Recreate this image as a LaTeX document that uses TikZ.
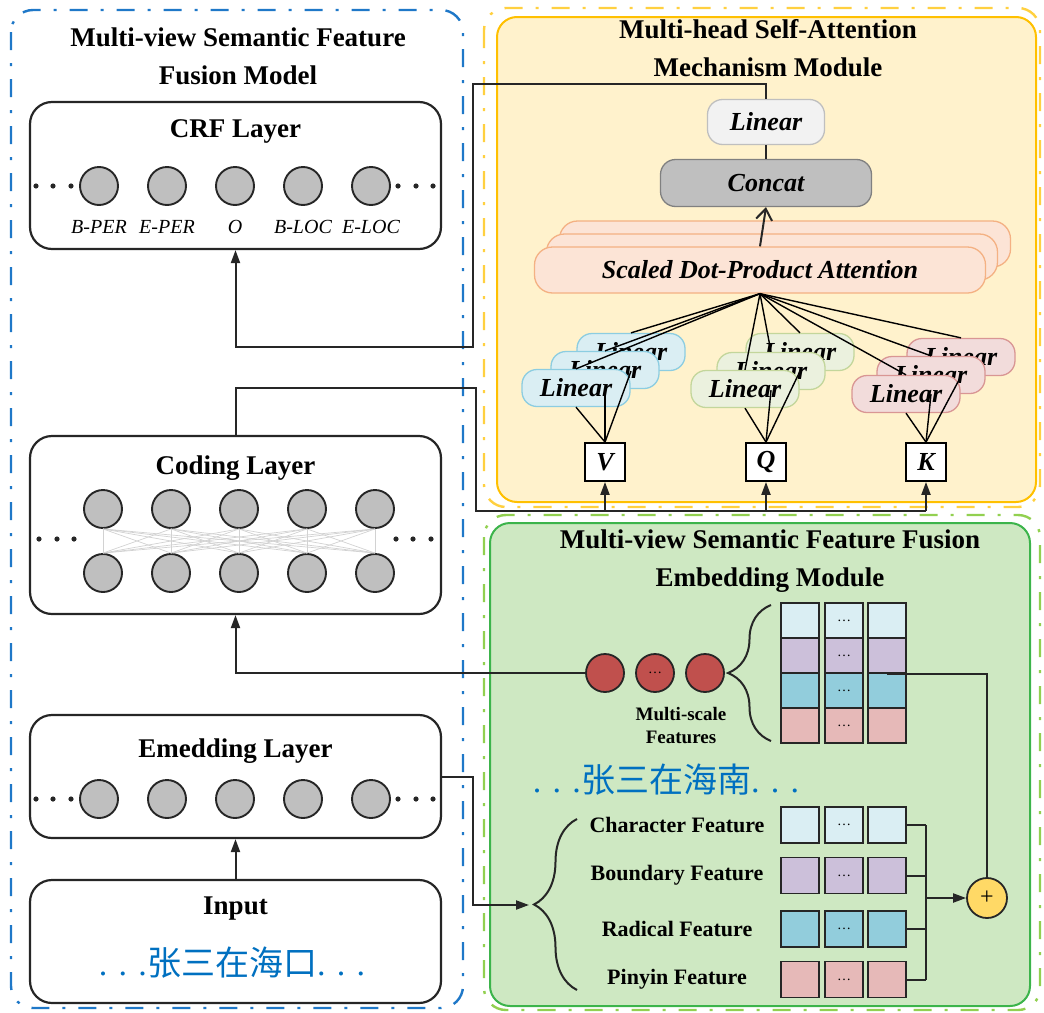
\documentclass[tikz,border=0pt]{standalone}
\usepackage{fontspec}
\setmainfont{Liberation Serif}
\newfontfamily\cjk{Noto Sans CJK SC}
\usetikzlibrary{arrows.meta,decorations.pathreplacing}
\definecolor{azulmarco}{RGB}{31,120,200}
\definecolor{amarillomarco}{RGB}{255,192,0}
\definecolor{amarillofondo}{RGB}{255,242,204}
\definecolor{verdemarco}{RGB}{60,180,75}
\definecolor{verdeclaro}{RGB}{146,208,80}
\definecolor{verdefondo}{RGB}{206,232,194}
\definecolor{textoazul}{RGB}{0,112,192}
\definecolor{gris}{RGB}{191,191,191}
\definecolor{grisoscuro}{RGB}{38,38,38}
\definecolor{celeste}{RGB}{218,238,243}
\definecolor{lila}{RGB}{204,192,218}
\definecolor{turquesa}{RGB}{146,205,220}
\definecolor{rosa}{RGB}{230,185,184}
\definecolor{azullin}{RGB}{218,238,243}
\definecolor{azullinborde}{RGB}{140,205,225}
\definecolor{verdelin}{RGB}{235,241,222}
\definecolor{verdelinborde}{RGB}{195,214,155}
\definecolor{rojolin}{RGB}{242,220,219}
\definecolor{rojolinborde}{RGB}{217,150,148}
\definecolor{naranjafondo}{RGB}{252,228,214}
\definecolor{naranjaborde}{RGB}{244,177,131}
\definecolor{rojobola}{RGB}{192,80,77}
\definecolor{oro}{RGB}{255,217,102}
\newcommand{\tam}[1]{\fontsize{#1}{#1}\selectfont}
\newcommand{\puntitos}{{\tam{14}\ldots}}
\tikzset{
  marco/.style={line width=2.4pt, rounded corners=22pt, dash pattern=on 18pt off 13pt on 3pt off 13pt},
  modulo/.style={line width=2pt, rounded corners=20pt},
  capa/.style={draw=grisoscuro, line width=2.2pt, rounded corners=22pt, minimum width=411pt, inner sep=0pt},
  titulo/.style={font=\bfseries\fontsize{27}{38}\selectfont, align=center},
  subtitulo/.style={font=\bfseries\tam{27}},
  neurona/.style={circle, draw=grisoscuro, fill=gris, line width=1.9pt, minimum size=38pt, inner sep=0pt},
  etiqueta/.style={font=\itshape\tam{20}},
  enlace/.style={draw=gray!35, line width=0.7pt},
  chino/.style={text=textoazul, font=\tam{34}},
  conector/.style={draw=grisoscuro, line width=2pt},
  flecha/.style={conector, -{Triangle[length=13pt,width=9pt]}},
  fina/.style={draw=black, line width=1.4pt},
  lineal/.style={rounded corners=15pt, line width=1.3pt, minimum width=108pt, minimum height=37pt, inner sep=0pt, font=\bfseries\itshape\tam{26}},
  lazul/.style={draw=azullinborde, fill=azullin},
  lverde/.style={draw=verdelinborde, fill=verdelin},
  lrojo/.style={draw=rojolinborde, fill=rojolin},
  atencion/.style={draw=naranjaborde, fill=naranjafondo, rounded corners=18pt, line width=1.3pt, minimum width=451pt, minimum height=46pt, inner sep=0pt, font=\bfseries\itshape\tam{26}},
  qkv/.style={draw=black, fill=white, line width=1.8pt, minimum width=40pt, minimum height=38pt, inner sep=0pt, font=\bfseries\itshape\tam{26}},
  bolaroja/.style={circle, draw=grisoscuro, fill=rojobola, line width=1.8pt, minimum size=38pt, inner sep=0pt},
  celda/.style={draw=grisoscuro, line width=1.8pt, minimum width=38pt, minimum height=35pt, inner sep=0pt},
  etiqfeat/.style={font=\bfseries\tam{22}},
  llave/.style={decorate, decoration={brace, amplitude=43pt}, line width=2pt, draw=grisoscuro},
  sumador/.style={circle, draw=grisoscuro, fill=oro, line width=1.8pt, minimum size=40pt, inner sep=0pt, font=\tam{24}}
}

\begin{document}
\begin{tikzpicture}[x=1pt, y=-1pt]
\useasboundingbox (0,0) rectangle (1044,1012);

% Marcos de los modulos
\draw[marco, azulmarco] (11,10) rectangle (463,1008);
\draw[marco, amarillomarco!75] (484,8) rectangle (1040,507);
\draw[marco, verdeclaro] (484,515) rectangle (1040,1010);
\draw[modulo, draw=amarillomarco, fill=amarillofondo] (497,17) rectangle (1036,502);
\draw[modulo, draw=verdemarco, fill=verdefondo] (490,523) rectangle (1030,1006);

% Titulos
\node[titulo] (titmodelo) at (238,56) {Multi-view Semantic Feature\\Fusion Model};
\node[titulo] (titatencion) at (768,48) {Multi-head Self-Attention\\Mechanism Module};
\node[titulo] (titfusion) at (770,561) {Multi-view Semantic Feature Fusion\\Embedding Module};

% Capa CRF
\node[capa, minimum height=147pt] (crf) at (235.5,175.5) {};
\node[subtitulo] (crftit) at (235.5,131) {CRF Layer};
\foreach \i/\lab in {0/B-PER,1/E-PER,2/O,3/B-LOC,4/E-LOC} {
  \node[neurona] (crf\i) at (99+68*\i,186) {};
  \node[etiqueta] (crflab\i) at (99+68*\i,227) {\lab};
}
\foreach \x in {36,53,71,398,416,433} \fill[grisoscuro] (\x,186) circle (2.6pt);

% Capa de codificacion
\node[capa, minimum height=178pt] (codif) at (235.5,525) {};
\node[subtitulo] (codiftit) at (235.5,468) {Coding Layer};
\foreach \i in {0,...,4} {
  \node[neurona] (cs\i) at (103+68*\i,509) {};
  \node[neurona] (ci\i) at (103+68*\i,573) {};
}
\foreach \i in {0,...,4} \foreach \j in {0,...,4} \draw[enlace] (cs\i.south) -- (ci\j.north);
\foreach \x in {39,57,74,396,413,431} \fill[grisoscuro] (\x,539) circle (2.6pt);

% Capa de embedding
\node[capa, minimum height=123pt] (emb) at (235.5,776.5) {};
\node[subtitulo] (embtit) at (235.5,751) {Emedding Layer};
\foreach \i in {0,...,4} \node[neurona] (emb\i) at (99+68*\i,799) {};
\foreach \x in {36,53,71,398,416,433} \fill[grisoscuro] (\x,799) circle (2.6pt);

% Entrada
\node[capa, minimum height=123pt] (entrada) at (235.5,941.5) {};
\node[subtitulo] (entradatit) at (235.5,909) {Input};
\node[chino] (entradatxt) at (232,963) {. . .{\cjk 张三在海口}. . .};

% Modulo de atencion
\node[lineal, draw=gris, fill=gray!10, minimum width=117pt, minimum height=45pt] (lin) at (766,122) {Linear};
\node[lineal, draw=gray, fill=gris, minimum width=211pt, minimum height=47pt] (concat) at (766,183) {Concat};
\node[atencion] (atn3) at (785,244) {};
\node[atencion] (atn2) at (772,257) {};
\node[atencion] (atn1) at (760,270) {Scaled Dot-Product Attention};

\node[lineal, lazul] (lv3) at (631,352) {Linear};
\node[lineal, lazul] (lv2) at (605,370) {Linear};
\node[lineal, lazul] (lv1) at (576,388) {Linear};
\node[lineal, lverde] (lq3) at (800,352) {Linear};
\node[lineal, lverde] (lq2) at (771,371) {Linear};
\node[lineal, lverde] (lq1) at (745,389) {Linear};
\node[lineal, lrojo] (lk3) at (961,357) {Linear};
\node[lineal, lrojo] (lk2) at (931,375) {Linear};
\node[lineal, lrojo] (lk1) at (906,394) {Linear};

\node[qkv] (v) at (605,462) {V};
\node[qkv] (q) at (766,462) {Q};
\node[qkv] (k) at (926,462) {K};

\foreach \g in {v,q,k} \foreach \n in {1,2,3} {
  \draw[fina] (\g.north) -- (l\g\n.south);
  \draw[fina] (atn1.south) -- (l\g\n.north);
}
\draw[conector, -{Straight Barb[length=11pt,width=16pt]}] (atn1.north) -- (concat.south);
\draw[conector] (concat.north) -- (lin.south);

% Rasgos multiescala
\node[bolaroja] (ms1) at (605,673) {};
\node[bolaroja] (ms2) at (655,673) {\puntitos};
\node[bolaroja] (ms3) at (705,673) {};
\node[font=\bfseries\fontsize{19}{23}\selectfont, align=center] (mstxt) at (681,726) {Multi-scale\\Features};
\draw[llave] (771,741) -- (771,605);
\foreach \r/\y/\col in {1/620.5/celeste,2/655.5/lila,3/690.5/turquesa,4/725.5/rosa} {
  \node[celda, fill=\col] (m\r1) at (800,\y) {};
  \node[celda, fill=\col] (m\r2) at (844,\y) {\puntitos};
  \node[celda, fill=\col] (m\r3) at (887,\y) {};
}

% Rasgos de caracter
\node[chino] (frasetxt) at (666,780) {. . .{\cjk 张三在海南}. . .};
\draw[llave] (577,990) -- (577,819);
\coordinate (puntallave) at (529,905);
\foreach \r/\y/\col/\lab in {1/825/celeste/Character Feature,2/875.5/lila/Boundary Feature,3/929/turquesa/Radical Feature,4/979.5/rosa/Pinyin Feature} {
  \node[etiqfeat] (fl\r) at (677,\y) {\lab};
  \node[celda, fill=\col, minimum height=36pt] (f\r1) at (800,\y) {};
  \node[celda, fill=\col, minimum height=36pt] (f\r2) at (844,\y) {\puntitos};
  \node[celda, fill=\col, minimum height=36pt] (f\r3) at (887,\y) {};
}
\node[sumador] (suma) at (987,898) {+};
\coordinate (bus2) at (926,898);
\foreach \r in {1,...,4} \draw[conector] (f\r3.east) -- (f\r3.east -| bus2);
\draw[conector] (f13.east -| bus2) -- (f43.east -| bus2);
\draw[flecha] (bus2) -- (suma.west);
\draw[conector] (m23.south) -| (suma.north);

% Conexiones entre modulos
\coordinate (bus) at (476,511);
\draw[flecha] (entrada.north) -- (emb.south);
\draw[flecha] (emb.east) -| (473,905) -- (puntallave);
\draw[flecha] (ms1.west) -| (codif.south);
\draw[conector] (codif.north) -- ++(0,-47) -| (bus) -- (bus -| k.south);
\foreach \n in {v,q,k} \draw[flecha] (bus -| \n.south) -- (\n.south);
\draw[flecha] (lin.north) -- ++(0,-15) -| (473,347) -| (crf.south);
\end{tikzpicture}
\end{document}
